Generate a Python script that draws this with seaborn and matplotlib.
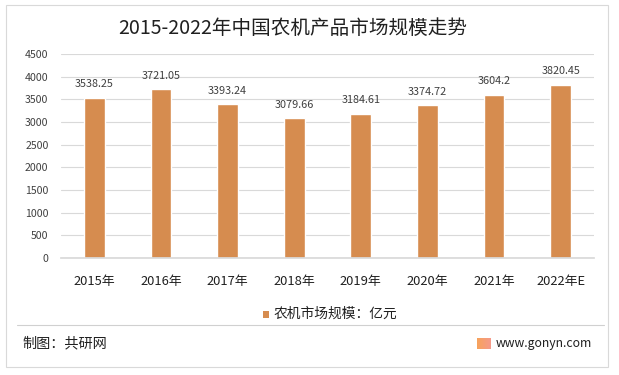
import matplotlib
matplotlib.use("Agg")
import matplotlib.pyplot as plt
import seaborn as sns
import pandas as pd
import numpy as np
from matplotlib.patches import Rectangle

years = ["2015年", "2016年", "2017年", "2018年", "2019年", "2020年", "2021年", "2022年E"]
values = [3538.25, 3721.05, 3393.24, 3079.66, 3184.61, 3374.72, 3604.2, 3820.45]
value_labels = ["3538.25", "3721.05", "3393.24", "3079.66", "3184.61", "3374.72", "3604.2", "3820.45"]
yticks = [0, 500, 1000, 1500, 2000, 2500, 3000, 3500, 4000, 4500]

sns.set_theme(style="white")
plt.rcParams['font.family'] = ['Noto Sans CJK SC', 'DejaVu Sans']

W, H = 619, 375
fig = plt.figure(figsize=(W / 100, H / 100), dpi=100)
ax = fig.add_axes([61 / W, 1 - 258 / H, (594 - 61) / W, (258 - 54) / H])

df = pd.DataFrame({"year": years, "value": values})
color = "#D68C4F"
sns.barplot(data=df, x="year", y="value", color=color, width=0.31, ax=ax, saturation=1)

ax.set_ylim(0, 4500)
ax.set_yticks(yticks)
ax.set_yticklabels([str(t) for t in yticks], fontsize=7.6, color="#404040")
ax.set_xticks(range(len(years)))
ax.set_xticklabels(years, fontsize=9.3, color="#202020")
ax.set_xlabel("")
ax.set_ylabel("")
ax.grid(axis="y", color="#D9D9D9", linewidth=0.8)
ax.set_axisbelow(True)
for s in ["top", "right", "left"]:
    ax.spines[s].set_visible(False)
ax.spines["bottom"].set_color("#D9D9D9")
ax.tick_params(axis="x", length=0, pad=12)
ax.tick_params(axis="y", length=0, pad=9)

for i, (v, lab) in enumerate(zip(values, value_labels)):
    ax.annotate(lab, (i, v), xytext=(0, 6), textcoords="offset points",
                ha="center", va="bottom", fontsize=7.8, color="#404040")

# title
fig.text(293 / W, 1 - 28.5 / H, "2015-2022年中国农机产品市场规模走势", ha="center", va="center",
         fontsize=14.1, color="#202020")

# legend
fig.patches.append(Rectangle((263 / W, 1 - 318 / H), 6 / W, 7 / H, transform=fig.transFigure,
                             facecolor=color, edgecolor="none"))
fig.text(274 / W, 1 - 314 / H, "农机市场规模：亿元", ha="left", va="center", fontsize=9.9, color="#202020")

# separator
fig.add_artist(plt.Line2D([17 / W, 604 / W], [1 - 325 / H, 1 - 325 / H], color="#D0D0D0", linewidth=0.8))

# footer
fig.text(22 / W, 1 - 343 / H, "制图：共研网", ha="left", va="center", fontsize=10.2, color="#202020")
icon = np.linspace(0, 1, 32).reshape(1, -1)
iax = fig.add_axes([477 / W, 1 - 349 / H, 14 / W, 11 / H])
iax.imshow(icon, aspect="auto", cmap=matplotlib.colors.LinearSegmentedColormap.from_list(
    "g", ["#F7A35C", "#F59A8A"]))
iax.axis("off")
fig.text(496 / W, 1 - 343 / H, "www.gonyn.com", ha="left", va="center", fontsize=8.8, color="#202020")

# outer border
fig.patches.append(Rectangle((6 / W, 1 - 367 / H), (608 - 6) / W, (367 - 5) / H, transform=fig.transFigure,
                             facecolor="none", edgecolor="#D9D9D9", linewidth=0.8))

fig.savefig("out.png", dpi=100)
